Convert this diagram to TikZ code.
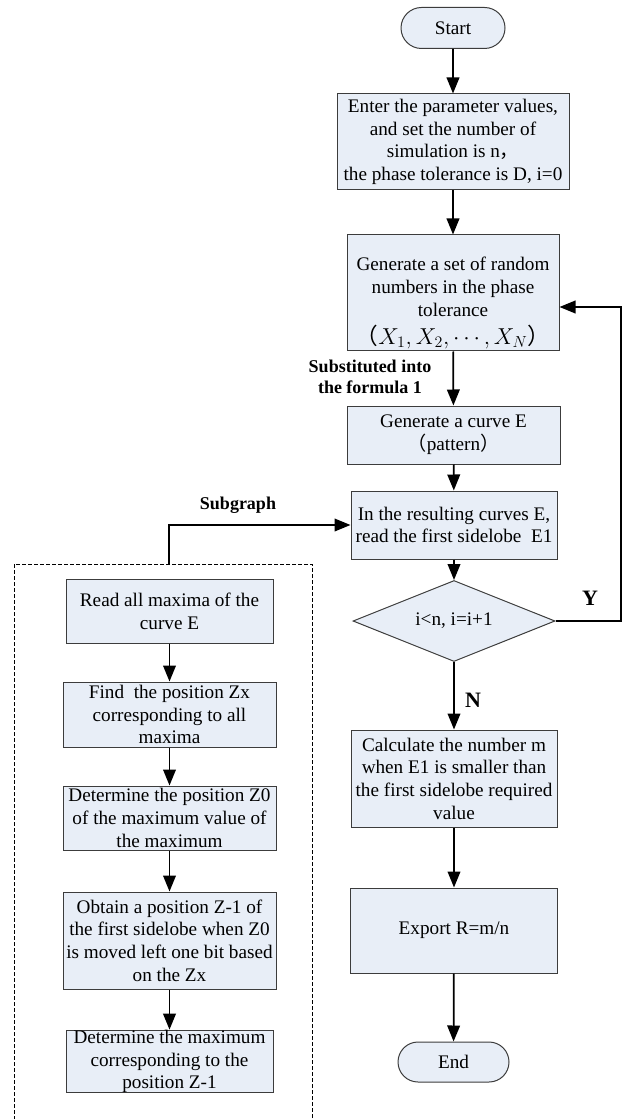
\documentclass[tikz,border=0pt]{standalone}
\usepackage{fontspec}
\setmainfont{Liberation Serif}
\newfontfamily\cjk{Noto Sans CJK SC}
\usetikzlibrary{shapes.geometric,shapes.misc,arrows.meta}

\definecolor{boxfill}{RGB}{232,238,247}
\definecolor{boxline}{RGB}{60,60,60}

\begin{document}
\begin{tikzpicture}[x=0.75pt,y=-0.75pt,
  every node/.style={font=\fontsize{14.4}{17}\selectfont, align=center, inner sep=0pt},
  boxsize/.style 2 args={minimum width=#1*0.75pt, minimum height=#2*0.75pt},
  procbox/.style={draw=boxline, fill=boxfill, line width=0.75pt, rectangle},
  termbox/.style={draw=boxline, fill=boxfill, line width=0.75pt, rounded rectangle},
  testbox/.style={draw=boxline, fill=boxfill, line width=0.75pt, diamond, aspect=2.5},
  flow/.style={-{Triangle[length=12pt,width=9.5pt]}, line width=1.3pt},
  tag/.style={font=\fontsize{13.5}{16}\selectfont\bfseries},
  bigtag/.style={font=\fontsize{16.5}{18}\selectfont\bfseries}
]
\useasboundingbox (0,0) rectangle (623,1119);

% main flow
\node[termbox, boxsize={104}{41}] (start) at (453,28) {Start};
\node[procbox, boxsize={232}{96}] (enter) at (453,142)
  {Enter the parameter values,\\ and set the number of\\ simulation is n{\cjk ，}\\ the phase tolerance is D, i=0};
\node[procbox, boxsize={212}{116}] (randset) at (453,293) {};
\node (randtxt) at (453,303)
  {Generate a set of random\\ numbers in the phase\\ tolerance\\[4pt]
   {\fontsize{17}{19}\selectfont{\cjk （}$X_1, X_2, \cdots, X_N${\cjk ）}}};
\node[procbox, boxsize={213}{58}] (curve) at (453.5,435) {Generate a curve E\\ {\cjk （}pattern{\cjk ）}};
\node[procbox, boxsize={206}{68}] (sidelobe) at (454,525)
  {In the resulting curves E,\\ read the first sidelobe~~E1};
\node[testbox, boxsize={202}{81}] (check) at (454,621) {i\textless n, i=i+1};
\node[procbox, boxsize={206}{97}] (count) at (454,778.5)
  {Calculate the number m\\ when E1 is smaller than\\ the first sidelobe required\\ value};
\node[procbox, boxsize={207}{85}] (export) at (454,930.5) {Export R=m/n};
\node[termbox, boxsize={111}{40}] (finish) at (453.5,1062) {End};

% subgraph
\draw[dash pattern=on 3pt off 1.5pt, line width=0.75pt] (14,564) rectangle (312,1130);
\node[procbox, boxsize={207}{64}] (readmax) at (169.5,611) {Read all maxima of the\\ curve E};
\node[procbox, boxsize={213}{65}] (findzx) at (169.5,714.5)
  {Find~ the position Zx\\ corresponding to all\\ maxima};
\node[procbox, boxsize={213}{64}] (findzo) at (169.5,818)
  {Determine the position Z0\\ of the maximum value of\\ the maximum};
\node[procbox, boxsize={213}{97}] (getzm) at (169.5,940.5)
  {Obtain a position Z-1 of\\ the first sidelobe when Z0\\ is moved left one bit based\\ on the Zx};
\node[procbox, boxsize={207}{61}] (detmax) at (169.5,1061.5)
  {Determine the maximum\\ corresponding to the\\ position Z-1};

% labels
\node[tag] (sublab) at (370,377) {Substituted into\\ the formula 1};
\node[tag] (graphlab) at (238,505) {Subgraph};
\node[bigtag] (ylab) at (590,598) {Y};
\node[bigtag] (nlab) at (473,700) {N};

% connectors
\draw[flow] (start) -- (enter);
\draw[flow] (enter) -- (randset);
\draw[flow] (randset) -- (curve);
\draw[flow] (curve) -- (sidelobe);
\draw[flow] (sidelobe) -- (check);
\draw[flow] (check) -- (count);
\draw[flow] (count) -- (export);
\draw[flow] (export) -- (finish);
\coordinate (loopx) at (621,621);
\draw[flow] (check.east) -- (loopx) |- ([yshift=-10.5pt]randset.east);
\coordinate (subtop) at (169,564);
\draw[flow] (subtop) |- (sidelobe.west);
\draw[flow] (readmax) -- (findzx);
\draw[flow] (findzx) -- (findzo);
\draw[flow] (findzo) -- (getzm);
\draw[flow] (getzm) -- (detmax);
\end{tikzpicture}
\end{document}
